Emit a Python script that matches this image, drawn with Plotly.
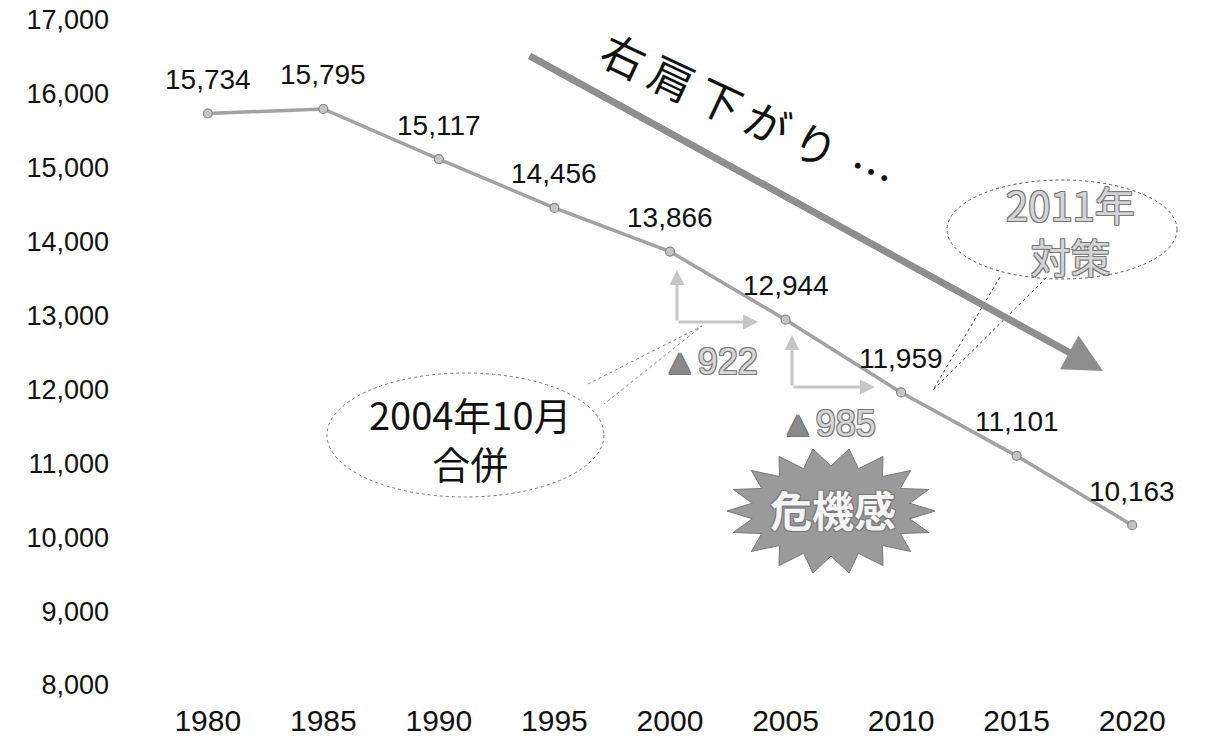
import numpy as np
import plotly.graph_objects as go

# Population by census year
years = [1980, 1985, 1990, 1995, 2000, 2005, 2010, 2015, 2020]
population = [15734, 15795, 15117, 14456, 13866, 12944, 11959, 11101, 10163]
y_ticks = [8000, 9000, 10000, 11000, 12000, 13000, 14000, 15000, 16000, 17000]
x_ticks = years

W, H = 1205, 736
ML, MR, MT, MB = 150, 0, 0, 36
PW, PH = W - ML - MR, H - MT - MB
X_RANGE = [1977.5, 2023.15]
Y_RANGE = [7797, 17270]

CJK = "Noto Sans CJK JP, Noto Sans CJK SC, sans-serif"
LAT = "Liberation Sans, Arial, sans-serif"
NARROW = "Liberation Sans Narrow, Arial Narrow, Liberation Sans, sans-serif"


def fx(px):
    """Canvas x pixel -> paper fraction."""
    return (px - ML) / PW


def fy(py):
    """Canvas y pixel -> paper fraction."""
    return (H - MB - py) / PH


OUTLINE = "1px 1px 0 #777, -1px -1px 0 #777, 1px -1px 0 #777, -1px 1px 0 #777"
CENTER = dict(xanchor="center", yanchor="middle")

fig = go.Figure()
fig.add_trace(go.Scatter(
    x=years, y=population, mode="lines+markers",
    line=dict(color="#a2a2a2", width=3.5),
    marker=dict(size=9, color="#c4c4c4", line=dict(color="#858585", width=1.2)),
    hoverinfo="skip", showlegend=False,
))

annotations = []
# value labels above each point
for yr, v in zip(years, population):
    annotations.append(dict(
        x=yr, y=v, xref="x", yref="y", text=f"{v:,}", showarrow=False,
        yshift=34, font=dict(family=LAT, size=28, color="#111"), **CENTER,
    ))

# big downward trend arrow
annotations.append(dict(
    x=fx(1103), y=fy(371), xref="paper", yref="paper",
    ax=528 - 1103, ay=55 - 371, axref="pixel", ayref="pixel",
    text="", showarrow=True, arrowhead=2, arrowsize=1.1, arrowwidth=7,
    arrowcolor="#8e8e8e",
))
annotations.append(dict(
    x=fx(748), y=fy(112), xref="paper", yref="paper",
    text="\u2009".join("右肩下がり") + "\u2009\u2009…", showarrow=False, textangle=25,
    font=dict(family=CJK, size=44, color="#111"), **CENTER,
))

# step arrows showing each 5-year drop
drops = [(2000, 2005, 677, 322, 758, 270, 710, 361),
         (2005, 2010, 792, 387, 875, 335, 828, 424)]
for a, b, x0, y0, x1, ytop, tx, ty in drops:
    annotations.append(dict(
        x=fx(x0), y=fy(ytop), xref="paper", yref="paper",
        ax=0, ay=y0 - ytop, text="", showarrow=True,
        arrowhead=2, arrowsize=1, arrowwidth=3, arrowcolor="#c6c6c6",
    ))
    annotations.append(dict(
        x=fx(x1), y=fy(y0), xref="paper", yref="paper",
        ax=x0 - x1, ay=0, text="", showarrow=True,
        arrowhead=2, arrowsize=1, arrowwidth=3, arrowcolor="#c6c6c6",
    ))
    d = population[years.index(a)] - population[years.index(b)]
    annotations.append(dict(
        x=fx(tx), y=fy(ty), xref="paper", yref="paper",
        text=f"<span style='color:#8a8a8a'>▲</span>{d}", showarrow=False,
        font=dict(family=LAT, size=36, color="#d6d6d6", shadow=OUTLINE), **CENTER,
    ))

# merger callout
annotations.append(dict(
    x=fx(470), y=fy(438), xref="paper", yref="paper",
    text="2004年10月<br>合併", showarrow=False,
    font=dict(family=CJK, size=38, color="#111"), **CENTER,
))
# policy callout
annotations.append(dict(
    x=fx(1070), y=fy(230), xref="paper", yref="paper",
    text="2011年<br>対策", showarrow=False,
    font=dict(family=CJK, size=40, color="#d4d4d4", shadow=OUTLINE), **CENTER,
))
# crisis burst label
annotations.append(dict(
    x=fx(833), y=fy(509), xref="paper", yref="paper",
    text="<b>危機感</b>", showarrow=False,
    font=dict(family=CJK, size=42, color="#f4f4f4", shadow=OUTLINE), **CENTER,
))

shapes = []
shapes.append(dict(type="circle", xref="paper", yref="paper",
                   x0=fx(327), x1=fx(604), y0=fy(373), y1=fy(497),
                   line=dict(color="#777", width=1, dash="dot")))
shapes.append(dict(type="circle", xref="paper", yref="paper",
                   x0=fx(947), x1=fx(1177), y0=fy(180), y1=fy(279),
                   line=dict(color="#555", width=1, dash="dot")))


def path(points, close=False):
    s = "M " + " L ".join(f"{fx(px):.5f},{fy(py):.5f}" for px, py in points)
    return s + (" Z" if close else "")


shapes.append(dict(type="path", xref="paper", yref="paper",
                   path=path([(588, 384), (702, 326), (604, 404)]),
                   line=dict(color="#888", width=1, dash="dot")))
shapes.append(dict(type="path", xref="paper", yref="paper",
                   path=path([(1000, 277), (933, 390), (1047, 277)]),
                   line=dict(color="#444", width=1, dash="dot")))

# starburst
cx, cy, rxo, ryo, rxi, ryi, n = 831, 511, 104, 63, 80, 45, 18
pts = []
for i in range(2 * n):
    ang = np.pi * i / n
    rx, ry = (rxo, ryo) if i % 2 == 0 else (rxi, ryi)
    pts.append((cx + rx * np.cos(ang), cy + ry * np.sin(ang)))
shapes.append(dict(type="path", xref="paper", yref="paper",
                   path=path(pts, close=True), fillcolor="#9a9a9a",
                   line=dict(color="#777", width=1), layer="above"))

fig.update_layout(
    width=W, height=H,
    margin=dict(l=ML, r=MR, t=MT, b=MB),
    paper_bgcolor="white", plot_bgcolor="white",
    xaxis=dict(range=X_RANGE, tickvals=x_ticks, ticktext=[str(t) for t in x_ticks],
               showgrid=False, zeroline=False, showline=False, ticks="",
               tickfont=dict(family=NARROW, size=30, color="#111"),
               ticklabelstandoff=0, fixedrange=True),
    yaxis=dict(range=Y_RANGE, tickvals=y_ticks, tickformat=",",
               showgrid=False, zeroline=False, showline=False, ticks="",
               tickfont=dict(family=LAT, size=27, color="#111"),
               ticklabelstandoff=40, fixedrange=True),
    shapes=shapes, annotations=annotations,
)

fig.write_html("out.html")
